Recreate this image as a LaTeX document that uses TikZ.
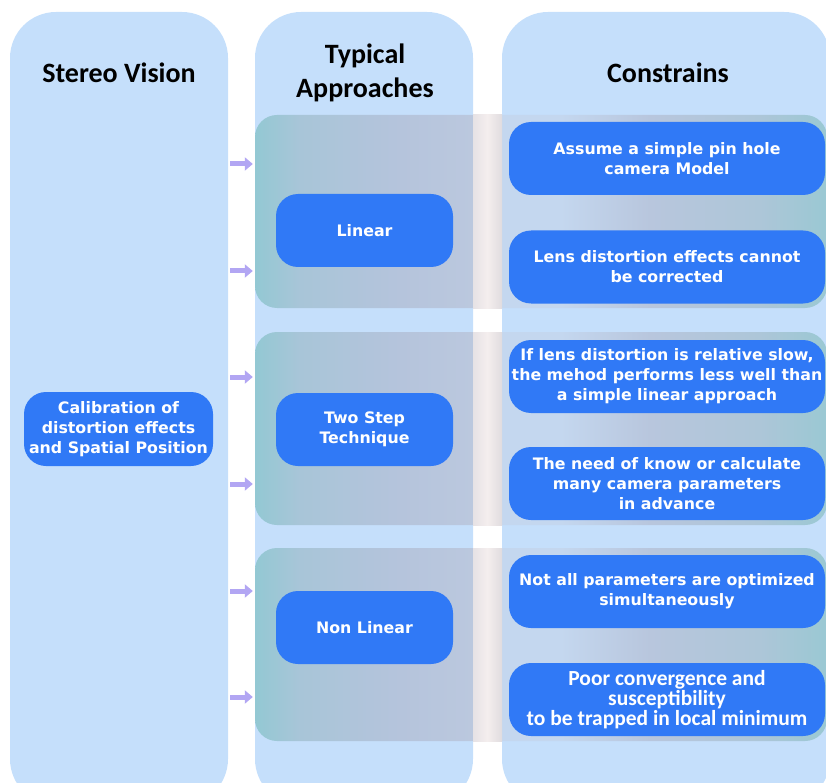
\documentclass[tikz,border=0pt]{standalone}
\usepackage{fontspec}
\setmainfont{DejaVu Sans}
\newfontfamily\headfont{Carlito}
\usetikzlibrary{arrows.meta}

\definecolor{colbg}{HTML}{C5DFFB}
\definecolor{boxblue}{HTML}{3079F6}
\definecolor{arrowpurple}{HTML}{B2A6F3}
\definecolor{bandA}{HTML}{93C8D3}
\definecolor{bandB}{HTML}{A8C5D8}
\definecolor{bandC}{HTML}{B5C4DC}
\definecolor{bandD}{HTML}{BBC8DE}
\definecolor{bandE}{HTML}{C4D7EF}
\definecolor{bandF}{HTML}{B8C6DD}
\definecolor{bandG}{HTML}{ADC6D8}
\definecolor{bandH}{HTML}{9AC8D3}
\definecolor{gapL}{HTML}{E6E2E5}
\definecolor{gapM}{HTML}{F4EEEE}
\definecolor{gapR}{HTML}{E0DCDF}

% band gradient: the middle 25bp..75bp spans the band width
\pgfdeclarehorizontalshading{bandshade}{100bp}{%
  color(0bp)=(bandA); color(25bp)=(bandA); color(28.9bp)=(bandB);
  color(37.7bp)=(bandC); color(44.1bp)=(bandD); color(46.6bp)=(bandE);
  color(51.7bp)=(bandE); color(59.5bp)=(bandF); color(69.1bp)=(bandG);
  color(75bp)=(bandH); color(100bp)=(bandH)}

\tikzset{
  column/.style={fill=colbg, rounded corners=46pt, inner sep=0pt, minimum width=#1},
  head/.style={font=\headfont\bfseries\fontsize{28}{34}\selectfont, align=center, text=black},
  band/.style={shading=bandshade, rounded corners=22pt, inner sep=0pt,
    minimum width=572pt, minimum height=193pt},
  bbox/.style={fill=boxblue, rounded corners=22pt, text=white, align=center, inner sep=0pt,
    font=\bfseries\fontsize{15.8}{20}\selectfont},
  approach/.style={bbox, minimum width=177pt, minimum height=73pt},
  constraint/.style={bbox, minimum width=316pt, minimum height=73pt},
  feed/.style={line width=5pt, draw=arrowpurple, -{Triangle[width=13pt,length=8pt]}, shorten >=2pt}
}

\begin{document}
\begin{tikzpicture}[x=1pt, y=-1pt]
\useasboundingbox (0,0) rectangle (826,783);
\begin{scope}
\clip (0,0) rectangle (826,783);

% columns
\node[column=218pt, minimum height=793pt] (col1) at (119,408.5) {};
\node[column=218pt, minimum height=793pt] (col2) at (364,408.5) {};
\node[column=328pt, minimum height=793pt] (col3) at (666,408.5) {};

% column headings
\node[head] (h1) at (119,73) {Stereo Vision};
\node[head] (h2) at (365,72.5) {Typical\\Approaches};
\node[head] (h3) at (668,73) {Constrains};

% horizontal bands, one per approach
\foreach \n/\y in {1/211.5, 2/428.5, 3/644.5} {
  \node[band] (band\n) at (541,\y) {};
  \shade[left color=gapL, right color=gapR, middle color=gapM]
    (473,\y-96.5) rectangle (502,\y+96.5);
}

% source box
\node[bbox, minimum width=189pt, minimum height=74pt] (calib) at (118.5,429)
  {Calibration of\\distortion effects\\and Spatial Position};

% approaches
\node[approach] (lin)  at (364.5,230.5) {Linear};
\node[approach] (two)  at (364.5,429.5) {Two Step\\Technique};
\node[approach] (nonl) at (364.5,627.5) {Non Linear};

% constraints
\node[constraint] (c1) at (667,158.5) {Assume a simple pin hole\\camera Model};
\node[constraint] (c2) at (667,267)   {Lens distortion effects cannot\\be corrected};
\node[constraint] (c3) at (667,376.5) {If lens distortion is relative slow,\\the mehod performs less well than\\a simple linear approach};
\node[constraint] (c4) at (667,483.5) {The need of know or calculate\\many camera parameters\\in advance};
\node[constraint] (c5) at (667,591.5) {Not all parameters are optimized\\simultaneously};
\node[constraint, font=\headfont\bfseries\fontsize{21.5}{20}\selectfont] (c6) at (667,699.5)
  {Poor convergence and\\susceptibility\\to be trapped in local minimum};

% feed arrows from the first column into the bands
\foreach \y [count=\i] in {164,271,377,484,591,697} {
  \coordinate (fs\i) at (230,\y);
}
\draw[feed] (fs1) -- (fs1 -| band1.west);
\draw[feed] (fs2) -- (fs2 -| band1.west);
\draw[feed] (fs3) -- (fs3 -| band2.west);
\draw[feed] (fs4) -- (fs4 -| band2.west);
\draw[feed] (fs5) -- (fs5 -| band3.west);
\draw[feed] (fs6) -- (fs6 -| band3.west);
\end{scope}
\end{tikzpicture}
\end{document}
